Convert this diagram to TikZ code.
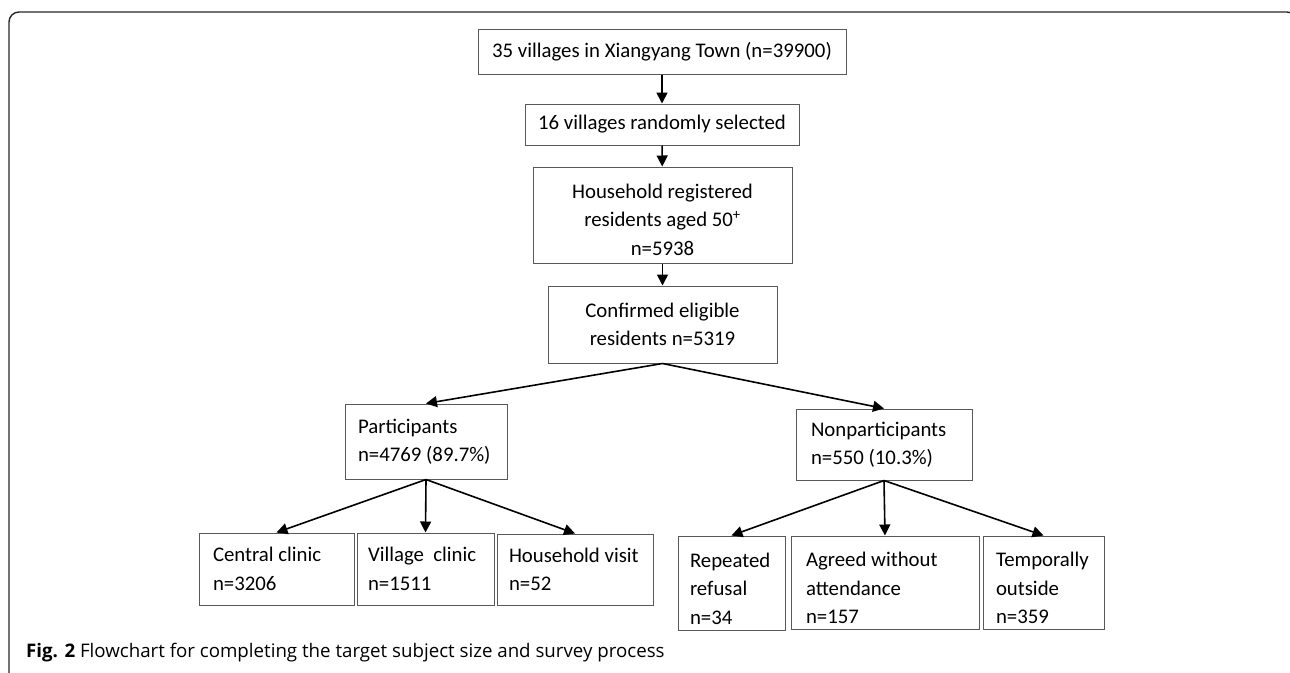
\documentclass[tikz,border=0pt]{standalone}
\usepackage{fontspec}
\newfontfamily\boxfont{Carlito}
\newfontfamily\capfont{Open Sans}
\usepackage{tikz}
\usetikzlibrary{arrows.meta}

\begin{document}
\begin{tikzpicture}[x=1pt,y=-1pt,
    box/.style={shape=rectangle,draw=black!65,line width=1pt,inner sep=0pt,
      font=\boxfont\fontsize{20.8}{28.5}\selectfont,align=center},
    lbox/.style={box,align=flush left},
    flow/.style={-{Triangle[length=11pt,width=11pt]},line width=1.6pt}]
    \useasboundingbox (0,0) rectangle (1290,672);
    \draw[line width=1.4pt,rounded corners=10pt,black!85] (9,690) -- (9,12) -- (1297,12) -- (1297,690);
    \node[box,minimum width=368,minimum height=45] (A) at (662,51.5){35 villages in Xiangyang Town (n=39900)};
    \node[box,minimum width=274,minimum height=41] (B) at (662,124.5){16 villages randomly selected};
    \node[box,minimum width=259,minimum height=96] (C) at (662.5,215){\rule{0pt}{24pt}Household registered\\residents aged 50\textsuperscript{+}\\n=5938};
    \node[box,minimum width=229,minimum height=77] (D) at (662.5,324.5){Confirmed eligible\\residents n=5319};
    \node[lbox,inner xsep=13pt,text width=136pt,minimum height=75] (P) at (426,441.5){Participants\\n=4769 (89.7\%)};
    \node[lbox,inner xsep=15pt,text width=146pt,minimum height=71] (N) at (884,444.5){Nonparticipants\\n=550 (10.3\%)};
    \node[lbox,inner xsep=14pt,text width=127pt,minimum height=72] (P1) at (276.5,569){Central clinic\\n=3206};
    \node[lbox,inner xsep=11pt,text width=115pt,minimum height=72] (P2) at (425.5,569){Village\ \ clinic\\n=1511};
    \node[lbox,inner xsep=12pt,text width=132pt,minimum height=71] (P3) at (575,569.5){Household visit\\n=52};
    \node[lbox,inner xsep=12pt,text width=83pt,minimum height=94] (N1) at (731.5,583){\rule{0pt}{26pt}Repeated\\refusal\\n=34};
    \node[lbox,inner xsep=15pt,text width=158pt,minimum height=93] (N2) at (885,582.5){\rule{0pt}{26pt}Agreed without\\attendance\\n=157};
    \node[lbox,inner xsep=13pt,text width=95pt,minimum height=93] (N3) at (1043.5,582.5){\rule{0pt}{26pt}Temporally\\outside\\n=359};
    \node[anchor=base west,inner sep=0pt,font=\capfont\fontsize{18.7}{22}\selectfont] (F) at (26,657){\textbf{Fig. 2} Flowchart for completing the target subject size and survey process};
    \path [flow](A) edge (B);
    \path [flow](B) edge (C);
    \path [flow](C) edge (D);
    \path [flow](D.south) edge (P.north);
    \path [flow](D.south) edge (N.north);
    \path [flow](P.south) edge (P1.north);
    \path [flow](P.south) edge (P2.north);
    \path [flow](P.south) edge (P3.north);
    \path [flow](N.south) edge (N1.north);
    \path [flow](N.south) edge (N2.north);
    \path [flow](N.south) edge (N3.north);
\end{tikzpicture}
\end{document}
